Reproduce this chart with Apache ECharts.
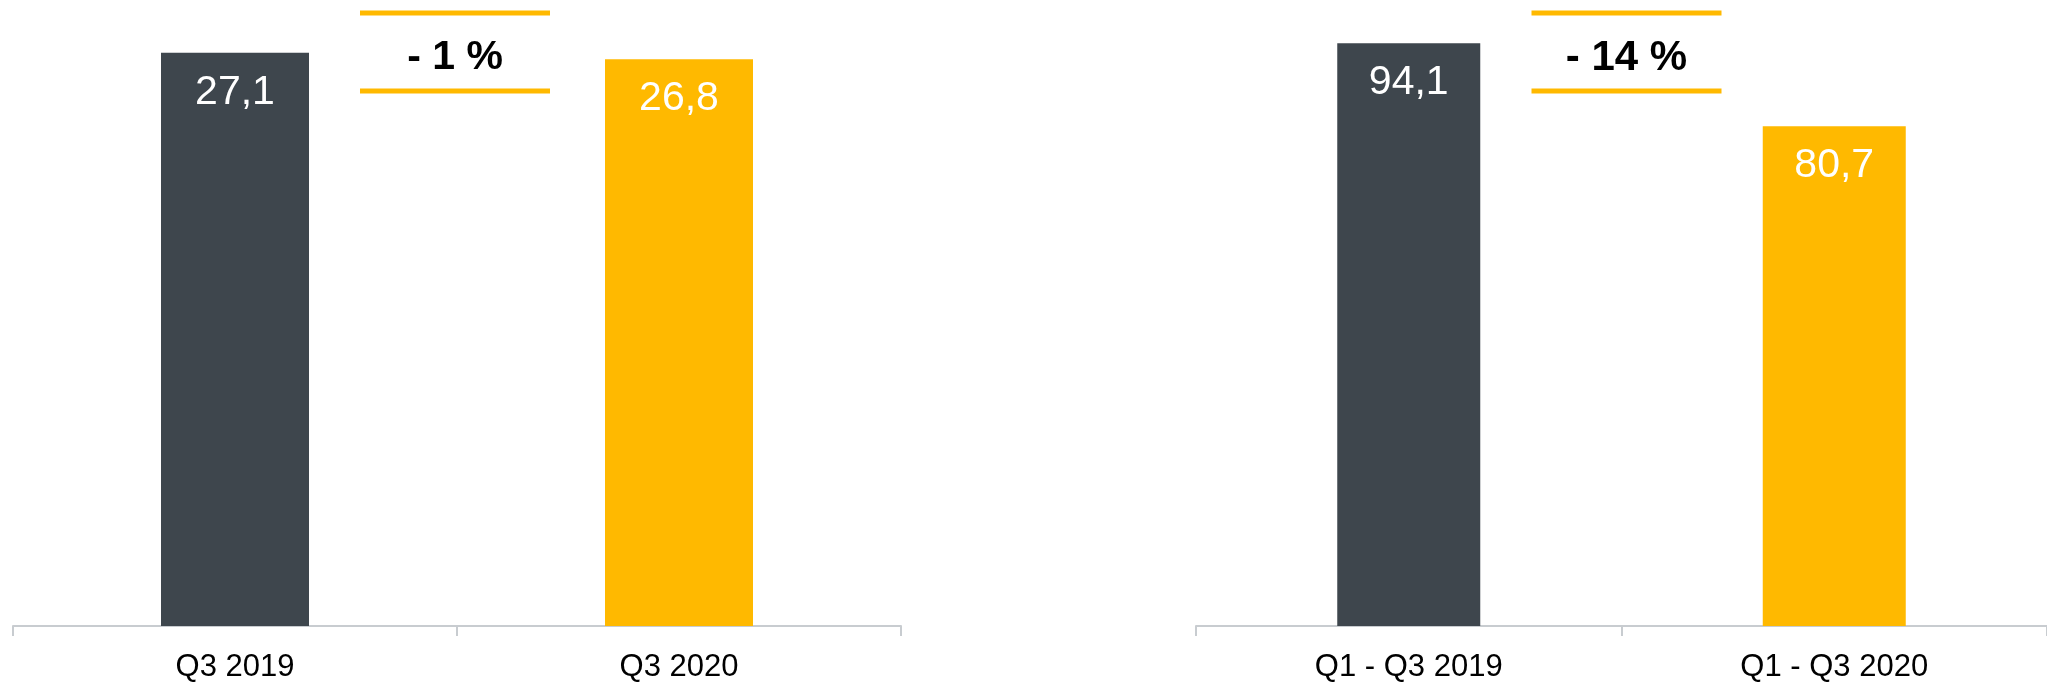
<!DOCTYPE html>
<html>
<head>
<meta charset="utf-8">
<script src="https://cdn.jsdelivr.net/npm/echarts@6/dist/echarts.min.js"></script>
<style>
  html, body { margin: 0; padding: 0; background: #ffffff; }
  #chart { width: 2047px; height: 683px; }
</style>
</head>
<body>
<div id="chart"></div>
<script>
// ---- data ----
const quarterCategories = ['Q3 2019', 'Q3 2020'];
const quarterValues = [27.1, 26.8];
const ytdCategories = ['Q1 - Q3 2019', 'Q1 - Q3 2020'];
const ytdValues = [94.1, 80.7];
const changeLabels = ['- 1 %', '- 14 %'];

// ---- styles ----
const DARK = '#3E464D';
const YELLOW = '#FFB900';
const AXIS = '#C8CCD0';
const FONT = "'Liberation Sans', Arial, sans-serif";

const chart = echarts.init(document.getElementById('chart'));

function barSeries(idx, values) {
  return {
    type: 'bar',
    xAxisIndex: idx,
    yAxisIndex: idx,
    barWidth: idx === 0 ? 148 : 143,
    data: values.map((v, i) => ({
      value: v,
      itemStyle: { color: i === 0 ? DARK : YELLOW }
    })),
    label: {
      show: true,
      position: 'insideTop',
      distance: 19,
      color: '#ffffff',
      fontFamily: FONT,
      fontSize: 41,
      formatter: p => String(p.value).replace('.', ',')
    },
    silent: true
  };
}

function xAxis(idx, cats) {
  return {
    type: 'category',
    gridIndex: idx,
    data: cats,
    axisLine: { lineStyle: { color: AXIS, width: 2 } },
    axisTick: { show: true, length: 10, lineStyle: { color: AXIS, width: 2 } },
    axisLabel: { color: '#000000', fontFamily: FONT, fontSize: 31, margin: 26 }
  };
}

function yAxis(idx, max) {
  return {
    type: 'value',
    gridIndex: idx,
    min: 0,
    max: max,
    show: false,
    splitLine: { show: false }
  };
}

chart.setOption({
  animation: false,
  backgroundColor: '#ffffff',
  grid: [
    { left: 13, width: 888, top: 0, height: 627 },
    { left: 1196, width: 854, top: 0, height: 630 }
  ],
  xAxis: [xAxis(0, quarterCategories), xAxis(1, ytdCategories)],
  yAxis: [yAxis(0, 29.6), yAxis(1, 101.1)],
  series: [barSeries(0, quarterValues), barSeries(1, ytdValues)]
});

// change annotations centred between the two bars of each chart
const cats = [quarterCategories, ytdCategories];
const graphics = [];
[0, 1].forEach(idx => {
  const p0 = chart.convertToPixel({ xAxisIndex: idx }, cats[idx][0]);
  const p1 = chart.convertToPixel({ xAxisIndex: idx }, cats[idx][1]);
  const cx = (p0 + p1) / 2 + (idx === 0 ? -2 : 5);
  const half = 95;
  [13, 91].forEach(y => {
    graphics.push({
      type: 'line',
      shape: { x1: cx - half, y1: y, x2: cx + half, y2: y },
      style: { stroke: YELLOW, lineWidth: 5 },
      silent: true
    });
  });
  graphics.push({
    type: 'text',
    x: cx,
    y: 58,
    style: {
      text: changeLabels[idx],
      fill: '#000000',
      font: 'bold ' + (idx === 0 ? 41 : 42) + 'px ' + FONT,
      textAlign: 'center',
      textVerticalAlign: 'middle'
    },
    silent: true
  });
});
chart.setOption({ graphic: graphics });
</script>
</body>
</html>
